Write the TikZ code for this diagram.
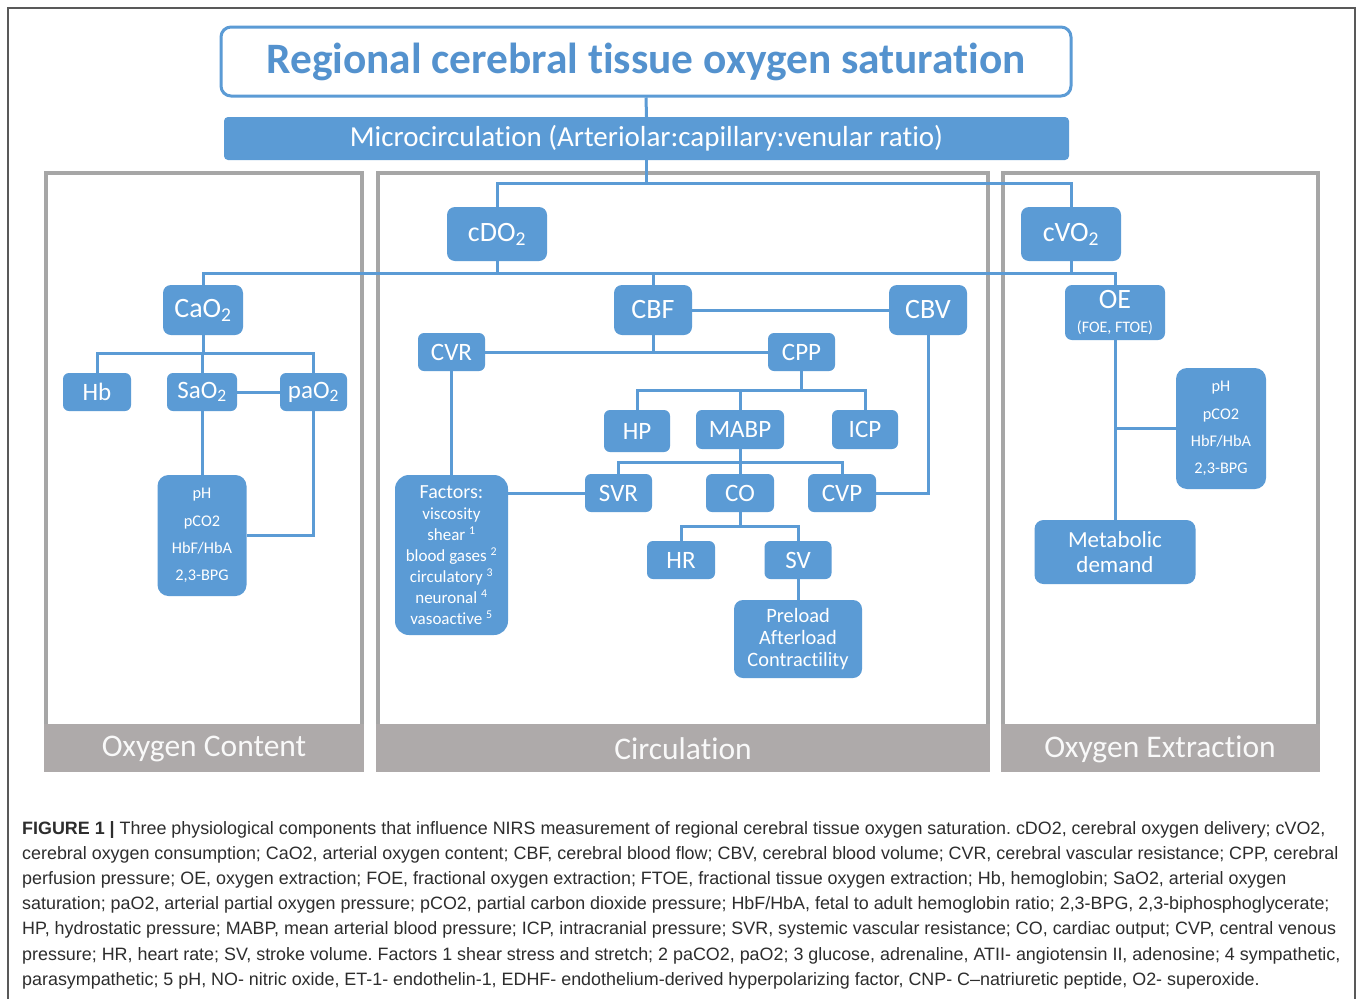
\documentclass[tikz,border=0pt]{standalone}
\usepackage{fontspec}
\setmainfont{Carlito}[Ligatures=NoCommon]
\newfontfamily\capfont{Liberation Sans}
\newcommand\fsz[2]{\fontsize{#1}{#2}\selectfont}
\definecolor{cblue}{RGB}{91,155,213}
\definecolor{tblue}{RGB}{84,146,206}
\definecolor{pgray}{RGB}{166,166,166}
\definecolor{bgray}{RGB}{174,170,170}
\definecolor{ctext}{RGB}{45,45,45}
\frenchspacing
\tikzset{
  box/.style={fill=cblue, rounded corners=6pt, text=white, inner sep=0pt, align=center, font=\fsz{25}{28}},
  bigbox/.style={box, rounded corners=8pt, font=\fsz{28}{32}},
  conn/.style={draw=cblue, line width=3pt},
  paneltext/.style={text=white!95!gray, font=\fsz{31.5}{33}},
  capline/.style={anchor=base west, inner sep=0pt, font=\capfont\fsz{17.9}{20}, text=ctext}
}
\begin{document}
\begin{tikzpicture}[x=1pt,y=-1pt]
\useasboundingbox (0,0) rectangle (1358,999);
\fill[white] (0,0) rectangle (1358,999);
% outer frame
\draw[line width=1.5pt, draw=black!65] (8,8) rectangle (1355,1010);

% panels
\foreach \l/\r in {44/364, 376/990, 1001/1320}{
  \fill[pgray] (\l,171) rectangle (\r,724);
  \fill[white] (\l+4,175) rectangle (\r-4,724);
  \fill[bgray] (\l,724) rectangle (\r,772);
}
\node[paneltext] (lab1) at (204,749) {Oxygen Content};
\node[paneltext] (lab2) at (683,749) {Circulation};
\node[paneltext] (lab3) at (1160,749) {Oxygen Extraction};

% title and microcirculation
\node[draw=cblue, line width=3pt, fill=white, rounded corners=10pt, minimum width=850pt, minimum height=69pt, inner sep=0pt, text=tblue, font=\bfseries\fsz{43.4}{46}] (title) at (646,61.5) {Regional cerebral tissue oxygen saturation};
\node[box, rounded corners=4pt, minimum width=845pt, minimum height=43pt, font=\fsz{29}{30}] (micro) at (646.5,138.5) {Microcirculation (Arteriolar:capillary:venular ratio)};

% top level
\node[bigbox, minimum width=100pt, minimum height=54pt] (cdo) at (497,234) {cDO\textsubscript{2}};
\node[bigbox, minimum width=100pt, minimum height=54pt] (cvo) at (1071,234) {cVO\textsubscript{2}};

\node[bigbox, minimum width=80pt, minimum height=50pt] (cao) at (203,310) {CaO\textsubscript{2}};
\node[bigbox, minimum width=78pt, minimum height=50pt] (cbf) at (653,310) {CBF};
\node[bigbox, minimum width=78pt, minimum height=50pt] (cbv) at (928,310) {CBV};
\node[box, rounded corners=7pt, minimum width=100pt, minimum height=55pt] (oe) at (1115,312.5) {\fsz{28}{28}OE\\[-4pt]{\fsz{16}{16}(FOE, FTOE)}};

% circulation
\node[box, minimum width=67pt, minimum height=38pt] (cvr) at (451.5,352) {CVR};
\node[box, minimum width=67pt, minimum height=38pt] (cpp) at (801.5,352) {CPP};
\node[box, minimum width=66pt, minimum height=42pt] (hp) at (637,431) {HP};
\node[box, minimum width=88pt, minimum height=39pt] (mabp) at (740,429.5) {MABP};
\node[box, minimum width=66pt, minimum height=39pt] (icp) at (865,429.5) {ICP};
\node[box, minimum width=67pt, minimum height=38pt] (svr) at (618.5,493) {SVR};
\node[box, minimum width=68pt, minimum height=38pt] (co) at (740,493) {CO};
\node[box, minimum width=68pt, minimum height=38pt] (cvp) at (842,493) {CVP};
\node[box, rounded corners=14pt, minimum width=113pt, minimum height=160pt, font=\fsz{17}{21}] (fac) at (451.5,555) {{\fsz{20}{21}Factors:}\\viscosity\\shear \textsuperscript{1}\\blood gases \textsuperscript{2}\\circulatory \textsuperscript{3}\\neuronal \textsuperscript{4}\\vasoactive \textsuperscript{5}};
\node[box, minimum width=68pt, minimum height=38pt] (hr) at (681,560) {HR};
\node[box, minimum width=67pt, minimum height=38pt] (sv) at (798,560) {SV};
\node[box, rounded corners=9pt, minimum width=128pt, minimum height=78pt, font=\fsz{20.4}{22}] (pre) at (798,639) {Preload\\Afterload\\Contractility};

% oxygen content
\node[box, minimum width=68pt, minimum height=38pt] (hb) at (97,392) {Hb};
\node[box, minimum width=70pt, minimum height=38pt] (sao) at (202,392) {SaO\textsubscript{2}};
\node[box, minimum width=67pt, minimum height=38pt] (pao) at (313.5,392) {paO\textsubscript{2}};
\node[box, rounded corners=11pt, minimum width=89pt, minimum height=121pt, font=\fsz{16.3}{27.3}] (phl) at (202,535.5) {pH\\pCO2\\HbF/HbA\\2,3-BPG};

% oxygen extraction
\node[box, rounded corners=11pt, minimum width=90pt, minimum height=121pt, font=\fsz{16.3}{27.3}] (phr) at (1221,428.5) {pH\\pCO2\\HbF/HbA\\2,3-BPG};
\node[box, rounded corners=9pt, minimum width=161pt, minimum height=64pt, font=\fsz{23}{25}] (met) at (1115,552) {Metabolic\\demand};

% connectors
\coordinate (j1) at (646.5,183);
\coordinate (j2) at (653,273);
\coordinate (j3) at (801.5,390);
\coordinate (j4) at (740,462);
\coordinate (j5) at (740,526);
\coordinate (j6) at (203,353);
\draw[conn] (title.south) -- (micro.north);
\draw[conn] (micro.south) -- (j1);
\draw[conn] (cdo.north) |- (j1) -| (cvo.north);
\draw[conn] (cao.north) |- (j2) -| (oe.north);
\draw[conn] (cdo.south) -- (cdo.south |- j2);
\draw[conn] (cbf.north) -- (j2);
\draw[conn] (cvo.south) -- (cvo.south |- j2);
\draw[conn] (cbf.east) -- (cbv.west);
\draw[conn] (cvr.east) -- (cpp.west);
\draw[conn] (cbf.south) -- (cbf.south |- cvr.east);
\draw[conn] (cbv.south) |- (cvp.east);
\draw[conn] (cvr.south) -- (fac.north);
\draw[conn] (cpp.south) -- (j3);
\draw[conn] (hp.north) |- (j3) -| (icp.north);
\draw[conn] (mabp.north) -- (mabp.north |- j3);
\draw[conn] (mabp.south) -- (j4);
\draw[conn] (svr.north) |- (j4) -| (cvp.north);
\draw[conn] (co.north) -- (j4);
\draw[conn] (svr.west) -- (svr.west -| fac.east);
\draw[conn] (co.south) -- (j5);
\draw[conn] (hr.north) |- (j5) -| (sv.north);
\draw[conn] (sv.south) -- (pre.north);
\draw[conn] (cao.south) -- (j6);
\draw[conn] (hb.north) |- (j6) -| (pao.north);
\draw[conn] (sao.north) -- (sao.north |- j6);
\draw[conn] (sao.east) -- (pao.west);
\draw[conn] (sao.south) -- (phl.north);
\draw[conn] (pao.south) |- (phl.east);
\draw[conn] (oe.south) -- (met.north);
\draw[conn] (phr.west) -- (phr.west -| oe.south);

% caption
\node[capline] (cap1) at (22,834) {{\bfseries FIGURE 1 |} Three physiological components that influence NIRS measurement of regional cerebral tissue oxygen saturation. cDO2, cerebral oxygen delivery; cVO2,};
\node[capline] (cap2) at (22,859.2) {cerebral oxygen consumption; CaO2, arterial oxygen content; CBF, cerebral blood flow; CBV, cerebral blood volume; CVR, cerebral vascular resistance; CPP, cerebral};
\node[capline] (cap3) at (22,884.4) {perfusion pressure; OE, oxygen extraction; FOE, fractional oxygen extraction; FTOE, fractional tissue oxygen extraction; Hb, hemoglobin; SaO2, arterial oxygen};
\node[capline] (cap4) at (22,909.6) {saturation; paO2, arterial partial oxygen pressure; pCO2, partial carbon dioxide pressure; HbF/HbA, fetal to adult hemoglobin ratio; 2,3-BPG, 2,3-biphosphoglycerate;};
\node[capline] (cap5) at (22,934.8) {HP, hydrostatic pressure; MABP, mean arterial blood pressure; ICP, intracranial pressure; SVR, systemic vascular resistance; CO, cardiac output; CVP, central venous};
\node[capline] (cap6) at (22,960) {pressure; HR, heart rate; SV, stroke volume. Factors 1 shear stress and stretch; 2 paCO2, paO2; 3 glucose, adrenaline, ATII- angiotensin II, adenosine; 4 sympathetic,};
\node[capline] (cap7) at (22,985.2) {parasympathetic; 5 pH, NO- nitric oxide, ET-1- endothelin-1, EDHF- endothelium-derived hyperpolarizing factor, CNP- C–natriuretic peptide, O2- superoxide.};
\end{tikzpicture}
\end{document}
